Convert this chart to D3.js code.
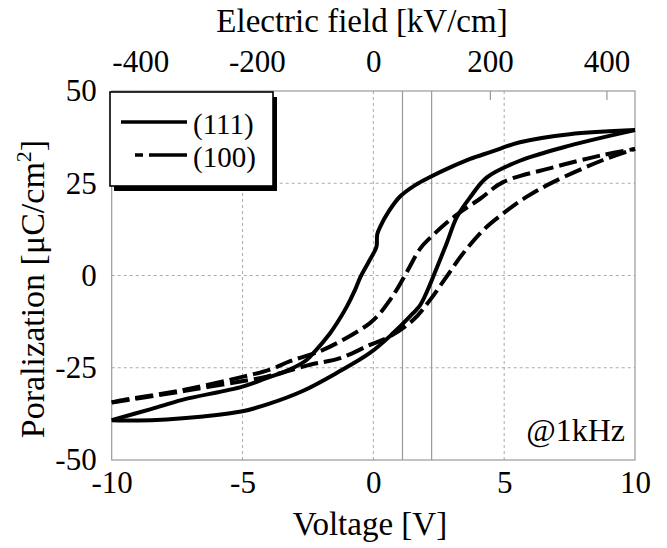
<!DOCTYPE html>
<html>
<head>
<meta charset="utf-8">
<script src="https://cdn.jsdelivr.net/npm/d3@7"></script>
<style>
  body { margin: 0; background: #fff; }
  svg text { font-family: "Liberation Serif", "Times New Roman", serif; fill: #000; }
</style>
</head>
<body>
<svg id="chart"></svg>
<script>
// (111) film, solid loop: upper (descending) branch and lower (ascending) branch
const v111Up = [-10, -8.5, -7.3, -5, -4, -3.2, -2.55, -2.3, -1.66, -1.4, -1.02, -0.7, -0.5, -0.2, 0.05, 0.1, 0.13, 0.15, 0.26, 0.6, 1.02, 1.6, 2.17, 3, 3.7, 4.5, 5.6, 7.5, 10];
const p111Up = [-39.2, -36.2, -33.7, -30.1, -27.6, -25.5, -22.9, -21.1, -15.7, -13, -8.5, -3.9, -0.5, 3.4, 6.6, 7.4, 8.2, 11.2, 13.2, 17.5, 21.4, 24.5, 26.7, 29.5, 31.6, 33.5, 36.1, 38.3, 39.4];
const v111Dn = [-10, -9, -7.9, -6.5, -5, -4, -2.7, -1.4, -0.13, 0.76, 1.4, 1.79, 2.04, 2.29, 2.8, 3.19, 3.7, 4.34, 5.6, 7.5, 10];
const p111Dn = [-39.2, -39.3, -39, -38.2, -36.8, -34.8, -31.3, -26.4, -21, -15.6, -11.1, -8.0, -4.5, -0.3, 8.7, 15.8, 21.2, 26.6, 31.1, 35.2, 39.4];

// (100) film, dashed loop
const v100Up = [-10, -9.75, -7.26, -4.97, -3.95, -3.18, -2.04, -1.15, -0.13, 0.26, 0.64, 0.89, 1.3, 1.79, 2.17, 3.06, 4.08, 4.96, 6.87, 8.67, 10];
const p100Up = [-34.4, -34, -31, -27.4, -25.5, -23.2, -20.5, -17.4, -12.9, -10.2, -6.6, -3.9, 1.2, 7.3, 10.2, 15.8, 20.8, 25.3, 29.3, 32.5, 34.3];
const v100Dn = [-10, -8, -6.24, -4.08, -2.42, -1.27, -0.13, 0.64, 1.53, 2.17, 2.8, 3.43, 4.2, 4.96, 5.9, 6.87, 8.78, 10];
const p100Dn = [-34.4, -32.2, -30.1, -27.4, -24.2, -22.4, -18.8, -16.5, -12, -6.6, -0.3, 6.0, 12.3, 16.8, 21.5, 25.3, 31.3, 34.3];

const voltTicks = [-10, -5, 0, 5, 10];
const polTicks = [-50, -25, 0, 25, 50];
const fieldTicks = [-400, -200, 0, 200, 400];
const fieldAt10V = 449;          // kV/cm at 10 V
const markerFields = [50, 100];  // kV/cm, thin vertical lines

const legendItems = ['(111)', '(100)'];

const W = 667, H = 548;
const margin = { top: 91, right: 32, bottom: 88, left: 111.7 };
const width = W - margin.left - margin.right;
const height = H - margin.top - margin.bottom;

const svg = d3.select('#chart').attr('width', W).attr('height', H);
const chart = svg.append('g').attr('transform', `translate(${margin.left},${margin.top})`);

const xScale = d3.scaleLinear().domain([-10, 10]).range([0, width]);
const eScale = d3.scaleLinear().domain([-fieldAt10V, fieldAt10V]).range([0, width]);
const yScale = d3.scaleLinear().domain([-50, 50]).range([height, 0]);

// grid
chart.append('g').selectAll('line')
    .data(voltTicks.filter(d => d > -10 && d < 10))
    .join('line')
    .attr('x1', d => xScale(d)).attr('x2', d => xScale(d))
    .attr('y1', 0).attr('y2', height)
    .attr('stroke', '#aaa').attr('stroke-dasharray', '3,3');

chart.append('g').selectAll('line')
    .data(polTicks.filter(d => d > -50 && d < 50))
    .join('line')
    .attr('x1', 0).attr('x2', width)
    .attr('y1', d => yScale(d)).attr('y2', d => yScale(d))
    .attr('stroke', '#aaa').attr('stroke-dasharray', '3,3');

chart.append('g').selectAll('line')
    .data(markerFields)
    .join('line')
    .attr('x1', d => eScale(d)).attr('x2', d => eScale(d))
    .attr('y1', 0).attr('y2', height)
    .attr('stroke', '#999').attr('stroke-width', 1.2);

// frame
chart.append('rect')
    .attr('width', width).attr('height', height)
    .attr('fill', 'none').attr('stroke', '#999').attr('stroke-width', 1.2);

// axes (plain hyphen for negatives, as in the original)
const fmt = d => String(d);

const xAxisG = chart.append('g')
    .attr('transform', `translate(0,${height})`)
    .call(d3.axisBottom(xScale).tickValues(voltTicks).tickFormat(fmt).tickSize(0).tickPadding(11));

const yAxisG = chart.append('g')
    .call(d3.axisLeft(yScale).tickValues(polTicks).tickFormat(fmt).tickSize(0).tickPadding(15));

const topAxisG = chart.append('g')
    .call(d3.axisTop(eScale).tickValues(fieldTicks).tickFormat(fmt).tickSizeInner(-9).tickSizeOuter(0).tickPadding(19));

[xAxisG, yAxisG, topAxisG].forEach(g => {
    g.select('.domain').remove();
    g.selectAll('text').style('font-size', '31px').attr('fill', '#000')
        .style('font-family', '"Liberation Serif", "Times New Roman", serif');
});
topAxisG.selectAll('.tick line').attr('stroke', '#999').attr('stroke-width', 1.2)
    .filter(d => d === 0).remove();

// curves
const line = d3.line()
    .x(d => xScale(d[0]))
    .y(d => yScale(d[1]))
    .curve(d3.curveCatmullRom.alpha(0.5));

const branches = [
    { v: v111Up, p: p111Up, dash: null },
    { v: v111Dn, p: p111Dn, dash: null },
    { v: v100Up, p: p100Up, dash: '18,6' },
    { v: v100Dn, p: p100Dn, dash: '18,6' }
];

chart.append('g').selectAll('path')
    .data(branches)
    .join('path')
    .attr('d', d => line(d.v.map((v, i) => [v, d.p[i]])))
    .attr('fill', 'none')
    .attr('stroke', '#000')
    .attr('stroke-width', 4)
    .attr('stroke-linejoin', 'round')
    .attr('stroke-dasharray', d => d.dash);

// legend
const legend = svg.append('g').attr('transform', 'translate(110,92)');
legend.append('rect')
    .attr('x', 4).attr('y', 5).attr('width', 163).attr('height', 94)
    .attr('fill', '#000');
legend.append('rect')
    .attr('width', 163).attr('height', 94)
    .attr('fill', '#fff').attr('stroke', '#000').attr('stroke-width', 1.6);

const legendRows = legend.selectAll('g.row')
    .data(legendItems)
    .join('g')
    .attr('class', 'row')
    .attr('transform', (d, i) => `translate(0,${i * 33})`);

legendRows.append('line')
    .attr('x1', (d, i) => i === 0 ? 11 : 25)
    .attr('x2', 77)
    .attr('y1', 30).attr('y2', 30)
    .attr('stroke', '#000').attr('stroke-width', 3.5)
    .attr('stroke-dasharray', (d, i) => i === 0 ? null : '8,6,40');

legendRows.append('text')
    .attr('x', 83).attr('y', 42)
    .style('font-size', '29px')
    .text(d => d);

// titles
svg.append('text')
    .attr('x', 362).attr('y', 32)
    .attr('text-anchor', 'middle')
    .style('font-size', '33px')
    .text('Electric field [kV/cm]');

svg.append('text')
    .attr('x', 370).attr('y', 535)
    .attr('text-anchor', 'middle')
    .style('font-size', '33px')
    .text('Voltage [V]');

const yTitle = svg.append('text')
    .attr('transform', 'translate(44,289) rotate(-90)')
    .attr('text-anchor', 'middle')
    .style('font-size', '34px');
yTitle.append('tspan').text('Poralization [\u03BCC/cm');
yTitle.append('tspan').attr('dy', -13).style('font-size', '22px').text('2');
yTitle.append('tspan').attr('dy', 13).text(']');

svg.append('text')
    .attr('x', 625).attr('y', 441)
    .attr('text-anchor', 'end')
    .style('font-size', '32px')
    .text('@1kHz');
</script>
</body>
</html>
